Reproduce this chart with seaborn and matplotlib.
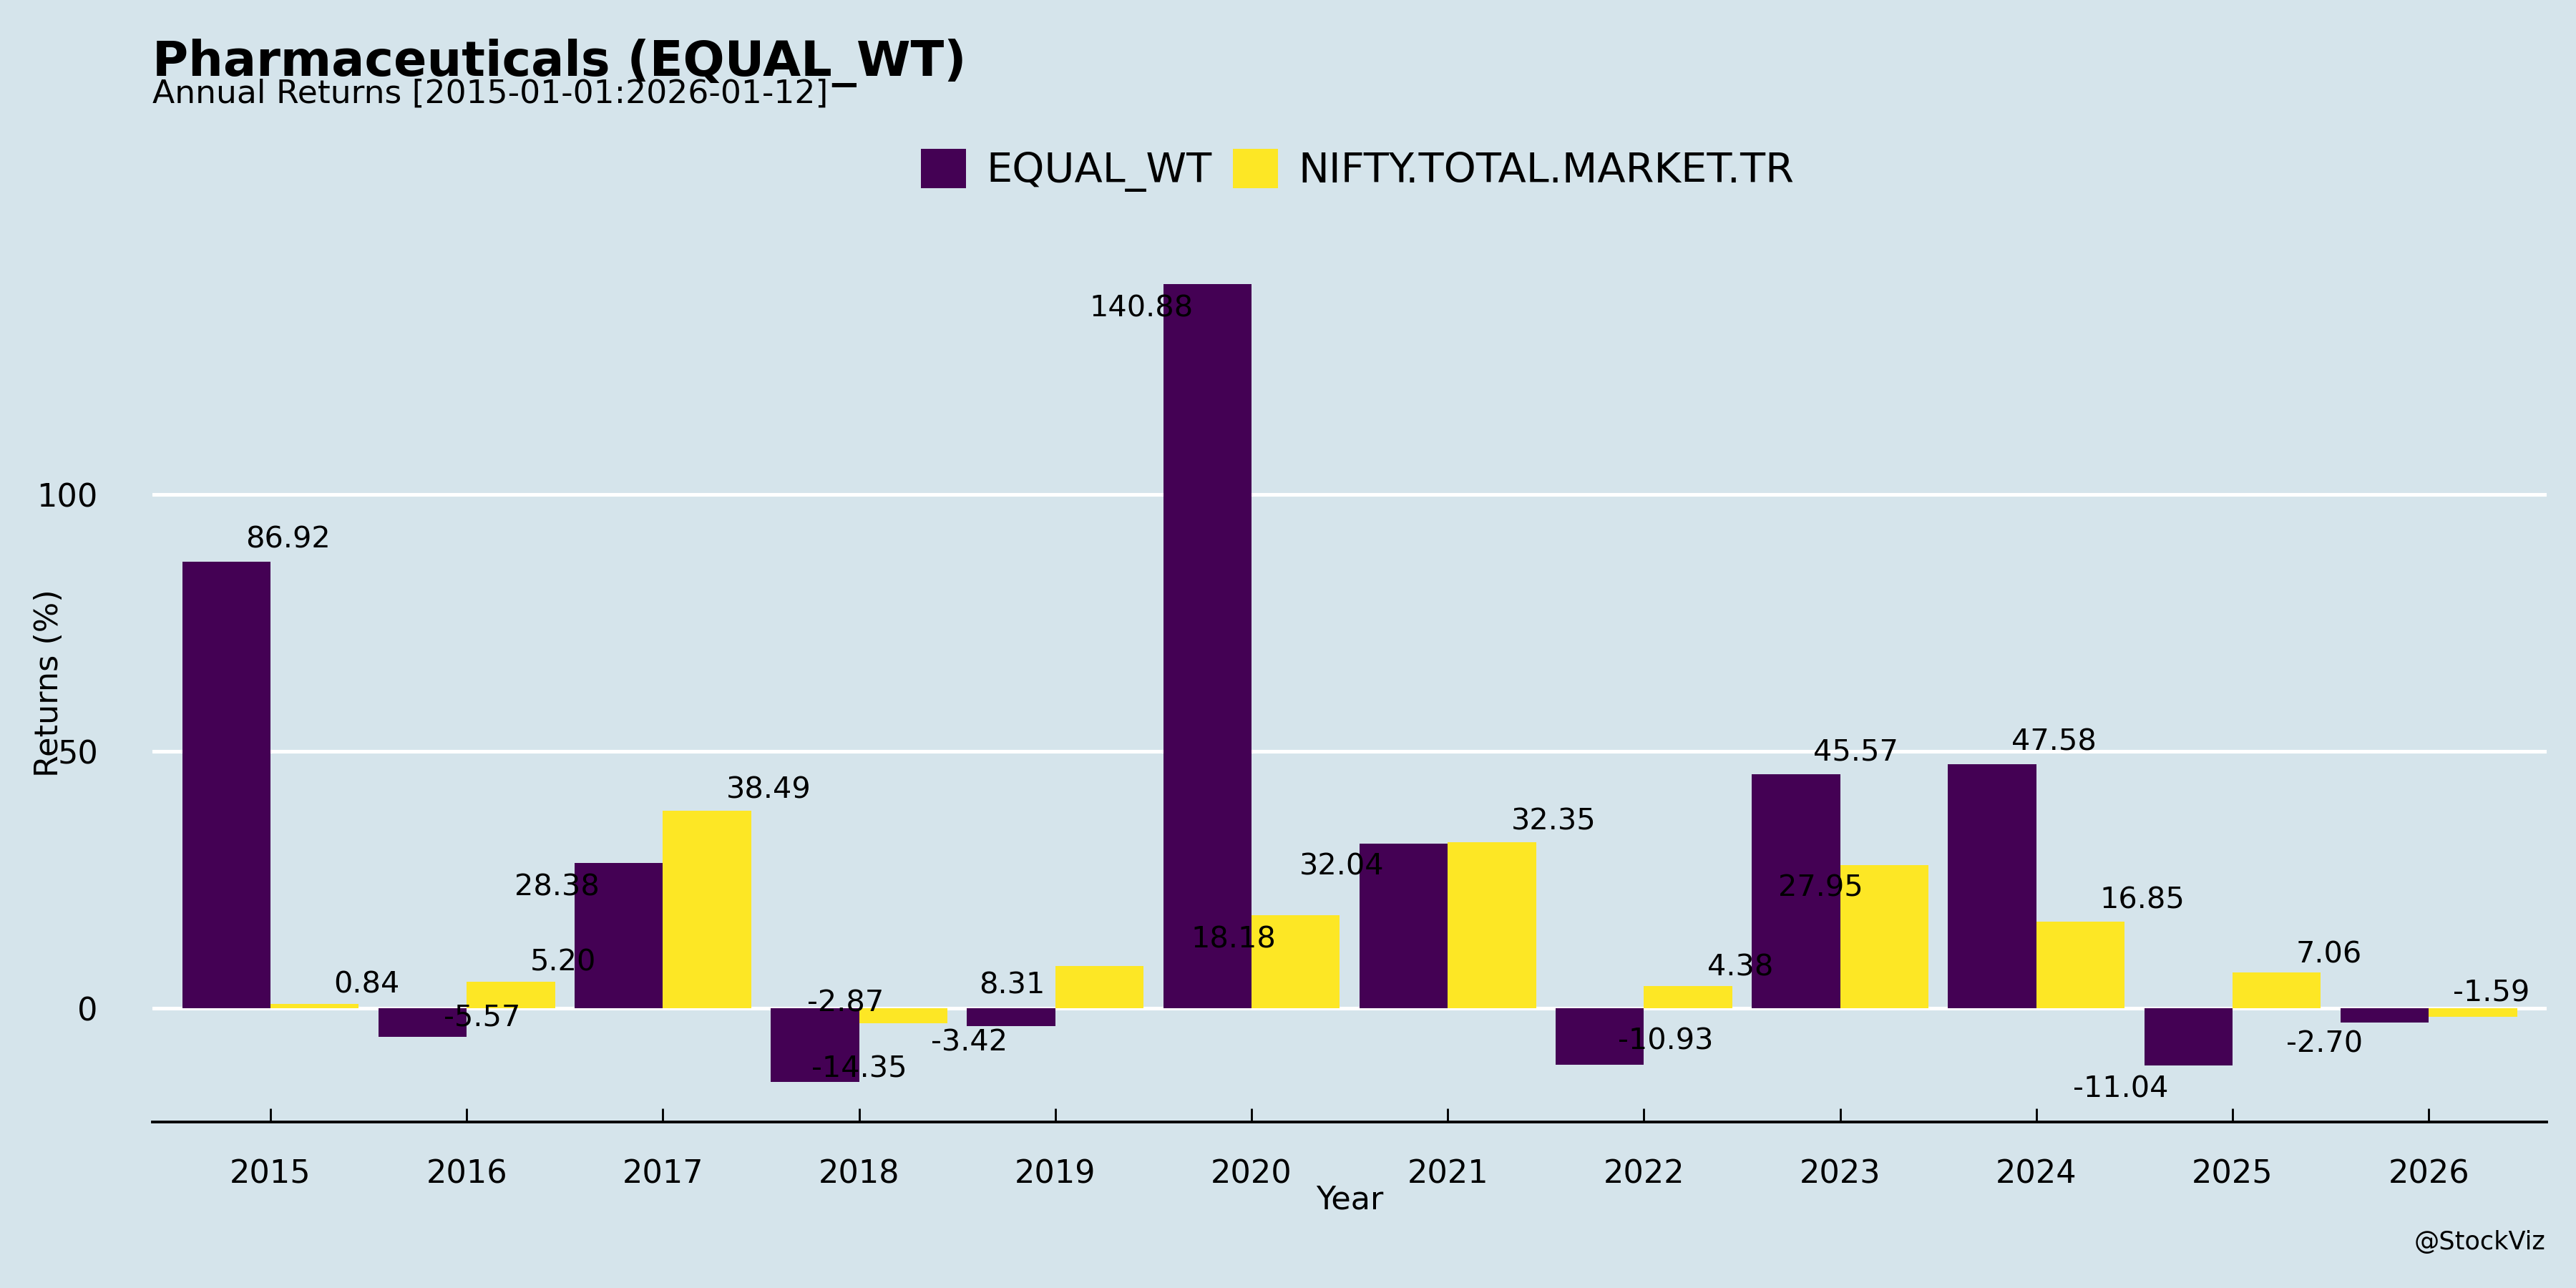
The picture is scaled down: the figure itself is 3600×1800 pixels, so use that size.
import pandas as pd
import seaborn as sns
import matplotlib.pyplot as plt

# annual returns (%)
years = ["2015", "2016", "2017", "2018", "2019", "2020", "2021", "2022", "2023", "2024", "2025", "2026"]
equal_wt = [86.92, -5.57, 28.38, -14.35, -3.42, 140.88, 32.04, -10.93, 45.57, 47.58, -11.04, -2.70]
nifty_tmtr = [0.84, 5.20, 38.49, -2.87, 8.31, 18.18, 32.35, 4.38, 27.95, 16.85, 7.06, -1.59]
series_names = ["EQUAL_WT", "NIFTY.TOTAL.MARKET.TR"]
colors = ["#440154", "#FDE725"]

# label nudges (x in category units, y in data units), as the labels were repelled in the original
eq_dx = [0.09, 0.08, -0.54, 0.0, -0.44, -0.56, -0.54, 0.11, 0.08, 0.09, -0.57, -0.53]
eq_dy = [4.2, 3.7, -4.8, 2.5, -3.3, -4.8, -4.5, 4.5, 4.2, 4.2, -4.7, -4.3]
nf_dx = [0.49, 0.49, 0.54, -0.07, -0.22, -0.09, 0.54, 0.49, -0.10, 0.54, 0.49, 0.32]
nf_dy = [3.7, 3.7, 4.0, 3.9, -3.8, -4.8, 4.0, 3.6, -4.6, 4.2, 3.4, 4.5]

bg = "#d5e4eb"

df = pd.DataFrame({
    "Year": years * 2,
    "Returns": equal_wt + nifty_tmtr,
    "Series": [series_names[0]] * len(years) + [series_names[1]] * len(years),
})

sns.set_style("white")
plt.rcParams["font.family"] = ["DejaVu Sans"]
plt.rcParams["text.color"] = "black"
plt.rcParams["axes.labelcolor"] = "black"

fig = plt.figure(figsize=(15.68, 7.84), dpi=229.6, facecolor=bg)
ax = fig.add_axes([0.0593, 0.1288, 0.9292, 0.6812])
ax.set_facecolor(bg)

# white horizontal gridlines behind bars
ax.set_axisbelow(True)
ax.yaxis.grid(True, color="white", linewidth=1.6)
ax.xaxis.grid(False)

sns.barplot(data=df, x="Year", y="Returns", hue="Series", order=years,
            hue_order=series_names, palette=colors, width=0.9, gap=0,
            saturation=1, edgecolor="none", ax=ax)

for i in range(len(years)):
    ax.text(i + eq_dx[i], equal_wt[i] + eq_dy[i], f"{equal_wt[i]:.2f}",
            ha="center", va="center", fontsize=13, color="black")
    ax.text(i + nf_dx[i], nifty_tmtr[i] + nf_dy[i], f"{nifty_tmtr[i]:.2f}",
            ha="center", va="center", fontsize=13, color="black")

ax.set_xlim(-0.6, len(years) - 0.4)
ax.set_ylim(-22.1, 148.6)
ax.set_yticks([0, 50, 100])

for s in ["top", "right", "left"]:
    ax.spines[s].set_visible(False)
ax.spines["bottom"].set_color("black")
ax.spines["bottom"].set_linewidth(1.2)

ax.tick_params(axis="x", bottom=True, direction="in", length=6, width=0.9, pad=16,
               labelsize=14, colors="black")
ax.tick_params(axis="y", left=False, length=0, pad=24, labelsize=14, colors="black")

ax.set_xlabel("Year", fontsize=14, labelpad=-2)
ax.set_ylabel("Returns (%)", fontsize=14)
ax.yaxis.set_label_coords(-0.037, 0.5)

# legend on top, centred over the panel
handles, labels = ax.get_legend_handles_labels()
ax.legend_.remove()
fig.legend(handles, labels, loc="center", bbox_to_anchor=(0.527, 0.868), ncol=2,
           frameon=False, fontsize=18, handlelength=1.1, handleheight=1.1,
           handletextpad=0.5, columnspacing=0.5)

fig.text(0.0593, 0.941, "Pharmaceuticals (EQUAL_WT)", fontsize=21.5, fontweight="bold",
         ha="left", va="baseline")
fig.text(0.0593, 0.920, "Annual Returns [2015-01-01:2026-01-12]", fontsize=14.3,
         ha="left", va="baseline")
fig.text(0.988, 0.03, "@StockViz", fontsize=11, ha="right", va="baseline")

fig.savefig("out.png", dpi=229.6, facecolor=bg)
